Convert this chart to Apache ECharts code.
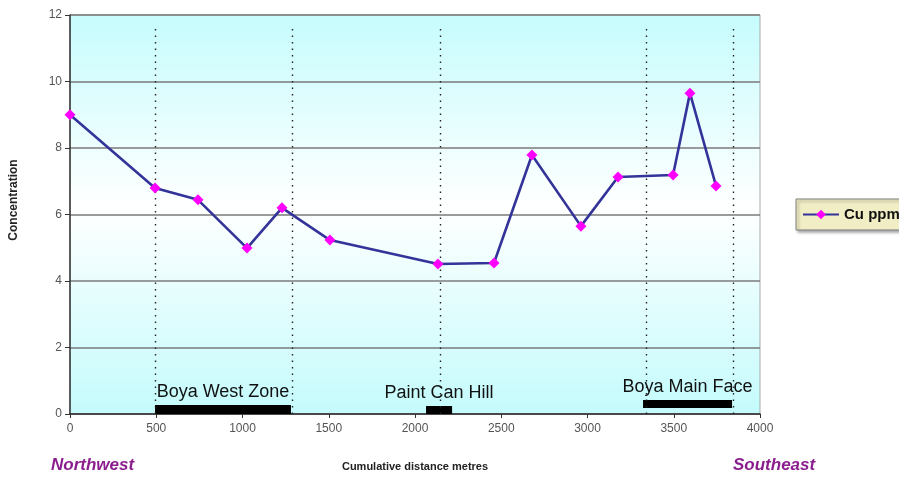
<!DOCTYPE html>
<html>
<head>
<meta charset="utf-8">
<title>Cu ppm along traverse</title>
<script src="https://cdn.jsdelivr.net/npm/echarts@6/dist/echarts.min.js"></script>
<style>
  html, body { margin: 0; padding: 0; background: #fff; }
  #chart { width: 899px; height: 477px; }
</style>
</head>
<body>
<div id="chart"></div>
<script>
// Cumulative distance (m) and Cu concentration (ppm) for each sample
const distances = [0, 493, 742, 1026, 1229, 1507, 2133, 2458, 2678, 2962, 3177, 3496, 3594, 3745];
const cuPpm = [9.0, 6.80, 6.44, 4.99, 6.20, 5.23, 4.51, 4.54, 7.79, 5.65, 7.13, 7.19, 9.65, 6.86];

// Zone boundaries marked with dotted verticals
const zoneLines = [493, 1287, 2145, 3339, 3843];
const zoneLineTop = 11.6;

// Named zones: start, end, lower and upper extent of the bar
const zoneNames = ['Boya West Zone', 'Paint Can Hill', 'Boya Main Face'];
const zoneStart = [493, 2064, 3322];
const zoneEnd = [1281, 2215, 3838];
const zoneLow = [0, 0, 0.18];
const zoneHigh = [0.27, 0.24, 0.42];

const yTicks = [0, 2, 4, 6, 8, 10, 12];

const chart = echarts.init(document.getElementById('chart'));
const font = '"Liberation Sans", Arial, sans-serif';

const zoneData = zoneNames.map((n, i) => [zoneStart[i], zoneEnd[i], zoneLow[i], zoneHigh[i], n]);

chart.setOption({
  animation: false,
  textStyle: { fontFamily: font },
  grid: {
    left: 70, right: 139, top: 15, bottom: 63,
    show: true,
    borderColor: '#a8a8a8',
    borderWidth: 1,
    backgroundColor: new echarts.graphic.LinearGradient(0, 0, 0, 1, [
      { offset: 0, color: '#c6fcfd' },
      { offset: 0.48, color: '#ffffff' },
      { offset: 1, color: '#c4fbfc' }
    ])
  },
  legend: {
    left: 796, top: 199,
    backgroundColor: '#f1edc4',
    borderColor: '#808080',
    borderWidth: 1,
    padding: [8, 6, 8, 6],
    shadowColor: 'rgba(0,0,0,0.35)',
    shadowBlur: 3,
    shadowOffsetX: 2,
    shadowOffsetY: 2,
    itemWidth: 36,
    itemHeight: 12,
    itemGap: 4,
    data: ['Cu ppm'],
    textStyle: { fontFamily: font, fontWeight: 'bold', fontSize: 15, color: '#111' }
  },
  xAxis: {
    type: 'value',
    min: 0, max: 4000, interval: 500,
    name: 'Cumulative distance metres',
    nameLocation: 'middle',
    nameGap: 47,
    nameTextStyle: { fontFamily: font, fontWeight: 'bold', fontSize: 11, color: '#222' },
    axisLine: { show: true, onZero: false, lineStyle: { color: '#333', width: 1.5 } },
    axisTick: { show: true, inside: false, length: 4, lineStyle: { color: '#333' } },
    axisLabel: { fontSize: 12, color: '#555', margin: 9, formatter: v => String(v) },
    splitLine: { show: false }
  },
  yAxis: {
    type: 'value',
    min: 0, max: 12, interval: 2,
    axisLine: { show: true, lineStyle: { color: '#333', width: 1.5 } },
    axisTick: { show: true, length: 5, lineStyle: { color: '#333' } },
    axisLabel: {
      fontSize: 12, color: '#555', margin: 8,
      formatter: v => (yTicks.indexOf(v) >= 0 ? String(v) : '')
    },
    splitLine: { show: true, lineStyle: { color: '#7a7a7a', width: 1.6 } }
  },
  series: [
    {
      name: 'zones',
      type: 'custom',
      z: 3,
      data: zoneData,
      encode: { x: [0, 1], y: [2, 3] },
      renderItem: function (params, api) {
        const p0 = api.coord([api.value(0), api.value(3)]);
        const p1 = api.coord([api.value(1), api.value(2)]);
        const label = zoneNames[params.dataIndex];
        return {
          type: 'group',
          children: [
            {
              type: 'rect',
              shape: { x: p0[0], y: p0[1], width: p1[0] - p0[0], height: p1[1] - p0[1] },
              style: { fill: '#000' }
            },
            {
              type: 'text',
              style: {
                text: label,
                x: (p0[0] + p1[0]) / 2,
                y: p0[1] - 4,
                align: 'center',
                verticalAlign: 'bottom',
                fill: '#111',
                font: '18px ' + font
              }
            }
          ]
        };
      },
      silent: true
    },
    {
      name: 'Cu ppm',
      type: 'line',
      z: 5,
      data: distances.map((d, i) => [d, cuPpm[i]]),
      symbol: 'diamond',
      symbolSize: 11,
      lineStyle: { color: '#333399', width: 2.6 },
      itemStyle: { color: '#ff00ff' },
      markLine: {
        silent: true,
        symbol: 'none',
        label: { show: false },
        lineStyle: { color: '#222', type: [1.5, 5], width: 1.4 },
        data: zoneLines.map(x => [{ coord: [x, 0] }, { coord: [x, zoneLineTop] }])
      }
    }
  ],
  graphic: [
    {
      type: 'text', x: 14, y: 200, rotation: Math.PI / 2,
      style: {
        text: 'Concentration', fill: '#222', align: 'center', verticalAlign: 'middle',
        font: 'bold 12px ' + font
      }
    },
    {
      type: 'text', left: 51, top: 457,
      style: { text: 'Northwest', fill: '#8b1e8e', font: 'italic bold 17px ' + font }
    },
    {
      type: 'text', left: 733, top: 457,
      style: { text: 'Southeast', fill: '#8b1e8e', font: 'italic bold 17px ' + font }
    }
  ]
});
</script>
</body>
</html>
